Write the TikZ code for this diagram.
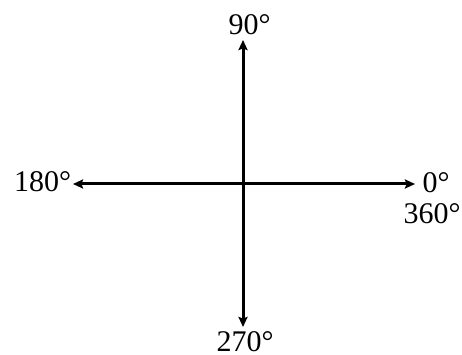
\documentclass[tikz,border=0pt]{standalone}
\usepackage{fontspec}
\setmainfont{Liberation Serif}
\usetikzlibrary{arrows.meta}
\begin{document}
\begin{tikzpicture}[x=1pt,y=-1pt,
  tip/.tip={Stealth[length=10pt,width=9pt,inset=1.5pt]},
  axis/.style={line width=3pt,tip-tip},
  lbl/.style={anchor=base,inner sep=0pt,font=\fontsize{30}{32}\selectfont}]
\useasboundingbox (0,0) rectangle (462,355);
\coordinate (t) at (243,40);
\coordinate (b) at (243,327);
\coordinate (l) at (73,184);
\coordinate (r) at (415,184);
\draw[axis] (t) -- (b);
\draw[axis] (l) -- (r);
\node[lbl] (n90) at (249.5,35) {90°};
\node[lbl] (n180) at (42.5,192) {180°};
\node[lbl] (n0) at (436,193) {0°};
\node[lbl] (n360) at (432,223) {360°};
\node[lbl] (n270) at (245,351) {270°};
\end{tikzpicture}
\end{document}
